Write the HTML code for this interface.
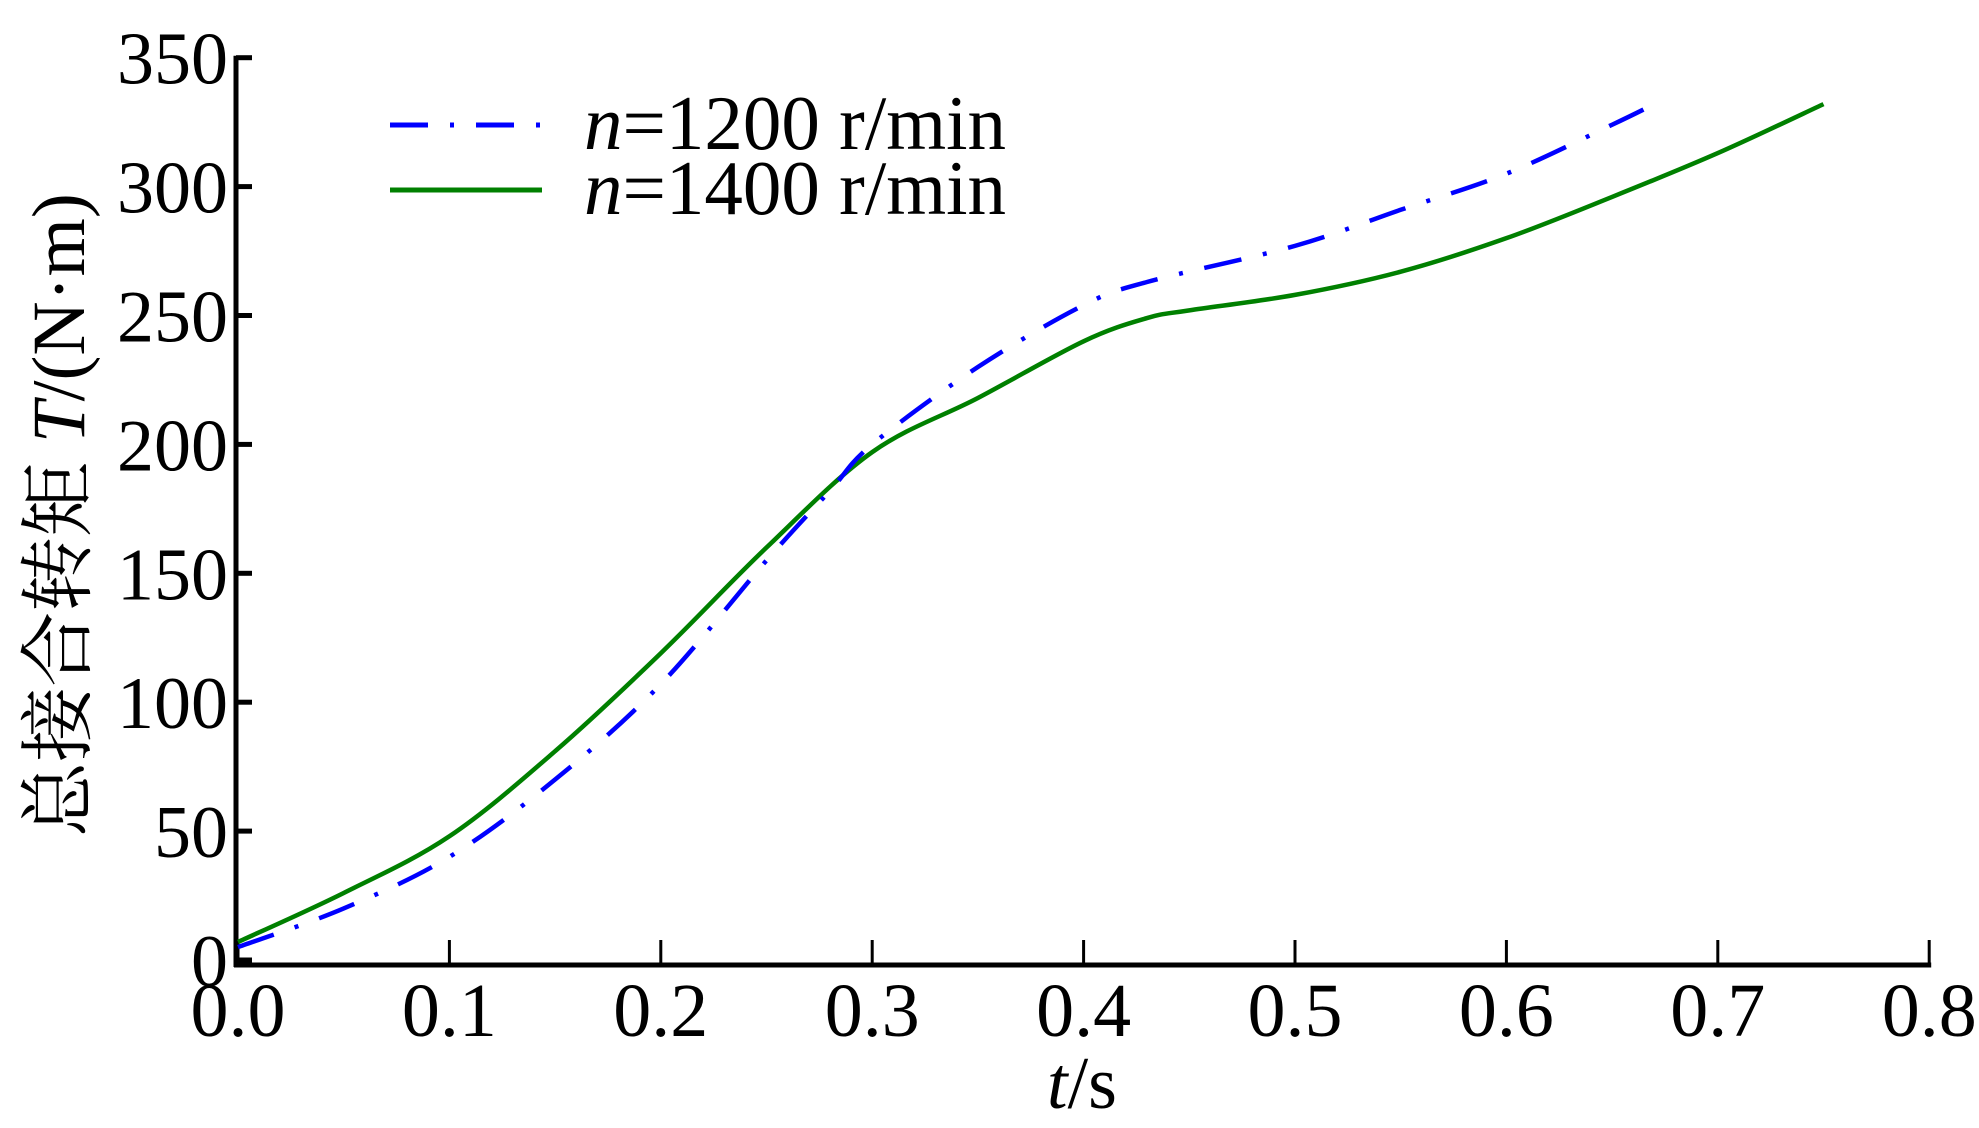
<!DOCTYPE html>
<html><head><meta charset="utf-8"><style>
html,body{margin:0;padding:0;background:#fff;}
svg{display:block;}
text{font-family:"Liberation Serif","Noto Serif CJK SC",serif;fill:#000;}
</style></head><body>
<svg id="chart" width="1979" height="1128" viewBox="0 0 1979 1128" xmlns="http://www.w3.org/2000/svg">
<g id="axes"></g>
<g id="series"></g>
<g>
  <line x1="390" y1="125" x2="542" y2="125" stroke="#0000ff" stroke-width="5" stroke-dasharray="38,22,4,22"/>
  <text x="584" y="149" font-size="77"><tspan font-style="italic">n</tspan>=1200 r/min</text>
  <line x1="390" y1="190" x2="542" y2="190" stroke="#008000" stroke-width="5"/>
  <text x="584" y="214" font-size="77"><tspan font-style="italic">n</tspan>=1400 r/min</text>
</g>
<text x="1082" y="1108" font-size="74" text-anchor="middle"><tspan font-style="italic">t</tspan>/s</text>
<text transform="translate(84,515) rotate(-90)" font-size="75" text-anchor="middle">总接合转矩 <tspan font-style="italic">T</tspan>/(N·m)</text>
</svg>
<script>
const xTicks = [0,0.1,0.2,0.3,0.4,0.5,0.6,0.7,0.8];
const xTickLabels = ["0.0","0.1","0.2","0.3","0.4","0.5","0.6","0.7","0.8"];
const yTicks = [0,50,100,150,200,250,300,350];
const yTickLabels = ["0","50","100","150","200","250","300","350"];
const t1200 = [0,0.05,0.1,0.15,0.2,0.25,0.28,0.3,0.35,0.4,0.43,0.5,0.55,0.6,0.65,0.67];
const T1200 = [5,20,40,70,107,155,182,200,230,254,263,277,291,305,324,332];
const t1400 = [0,0.05,0.1,0.15,0.2,0.25,0.3,0.35,0.4,0.43,0.45,0.5,0.55,0.6,0.65,0.7,0.75];
const T1400 = [7,26,48,81,119,160,197,218,240,249,252,258,267,280,296,313,332];

const NS = "http://www.w3.org/2000/svg";
const X0 = 238, XPER = 2114, Y0 = 960, YPER = 2.578;
function sx(t){ return X0 + t*XPER; }
function sy(v){ return Y0 - v*YPER; }
function mk(tag, attrs, parent){ const e=document.createElementNS(NS,tag); for(const k in attrs) e.setAttribute(k,attrs[k]); parent.appendChild(e); return e; }

const axes = document.getElementById('axes');
let el = mk('line',{x1:236,y1:sy(350)-2,x2:236,y2:967,stroke:'#000','stroke-width':5},axes);


el = mk('line',{x1:234,y1:965,x2:sx(0.8)+2,y2:965,stroke:'#000','stroke-width':5},axes);


xTicks.forEach((t,i)=>{
  const tk = mk('line',{x1:sx(t),y1:965,x2:sx(t),y2:940,stroke:'#000','stroke-width':3},axes);
  
  
  const lb = mk('text',{x:sx(t),y:1036,'font-size':76,'text-anchor':'middle'},axes);
  lb.textContent = xTickLabels[i];
  
  
});
yTicks.forEach((v,i)=>{
  const tk = mk('line',{x1:236,y1:sy(v),x2:252,y2:sy(v),stroke:'#000','stroke-width':5},axes);
  
  
  const lb = mk('text',{x:228,y:sy(v)+26,'font-size':74,'text-anchor':'end'},axes);
  lb.textContent = yTickLabels[i];
  
  
});

function smoothPath(ts, vs){
  const p = ts.map((t,i)=>[sx(t),sy(vs[i])]);
  let d = `M${p[0][0]},${p[0][1]}`;
  for(let i=0;i<p.length-1;i++){
    const a=p[Math.max(0,i-1)], b=p[i], c=p[i+1], e=p[Math.min(p.length-1,i+2)];
    const c1=[b[0]+(c[0]-a[0])/6, b[1]+(c[1]-a[1])/6];
    const c2=[c[0]-(e[0]-b[0])/6, c[1]-(e[1]-b[1])/6];
    d += ` C${c1[0]},${c1[1]} ${c2[0]},${c2[1]} ${c[0]},${c[1]}`;
  }
  return d;
}
const series = document.getElementById('series');
const g = mk('path',{d:smoothPath(t1400,T1400),fill:'none',stroke:'#008000','stroke-width':4.5},series);


const b = mk('path',{d:smoothPath(t1200,T1200),fill:'none',stroke:'#0000ff','stroke-width':4.5,'stroke-dasharray':'38,22,4,22'},series);


</script>
</body></html>
